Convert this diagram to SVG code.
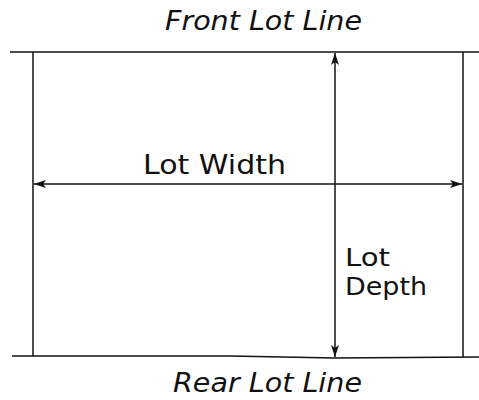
<svg xmlns="http://www.w3.org/2000/svg" width="479" height="400" viewBox="0 0 479 400">
<style>
.ln{stroke:#111;stroke-width:1.5;fill:none}
.t{font-family:"DejaVu Sans","Liberation Sans",sans-serif;font-size:27px;fill:#111}
.i{font-style:italic;font-size:26px}
.d{font-size:24px}
</style>
<defs>
<marker id="ah" viewBox="0 0 12 8" refX="12" refY="4" markerWidth="12" markerHeight="8" markerUnits="userSpaceOnUse" orient="auto">
<path d="M0,0 L12,4 L0,8 L3,4 Z" fill="#111"/>
</marker>
</defs>
<rect width="479" height="400" fill="#fff"/>
<g id="lot">
<line class="ln" x1="10" y1="52" x2="479" y2="52"/>
<polyline class="ln" points="12,356 230,356 335,358 479,357"/>
<line class="ln" x1="33" y1="52" x2="33" y2="356"/>
<line class="ln" x1="463" y1="52" x2="463" y2="357"/>
</g>
<g id="connectors">
<line class="ln" x1="335" y1="184" x2="34" y2="184" marker-end="url(#ah)"/>
<line class="ln" x1="335" y1="184" x2="462" y2="184" marker-end="url(#ah)"/>
<line class="ln" x1="335" y1="200" x2="335" y2="53" marker-end="url(#ah)"/>
<line class="ln" x1="335" y1="200" x2="335" y2="357" marker-end="url(#ah)"/>
</g>
<g id="front"><text class="t i" x="165" y="30" textLength="197" lengthAdjust="spacingAndGlyphs">Front Lot Line</text></g>
<g id="rear"><text class="t i" x="173" y="392" textLength="189" lengthAdjust="spacingAndGlyphs">Rear Lot Line</text></g>
<g id="width"><text class="t" x="143" y="174" textLength="143" lengthAdjust="spacingAndGlyphs">Lot  Width</text></g>
<g id="depth"><text class="t d" x="345" y="266" textLength="45" lengthAdjust="spacingAndGlyphs">Lot</text><text class="t d" x="345" y="295" textLength="82" lengthAdjust="spacingAndGlyphs">Depth</text></g>
</svg>
